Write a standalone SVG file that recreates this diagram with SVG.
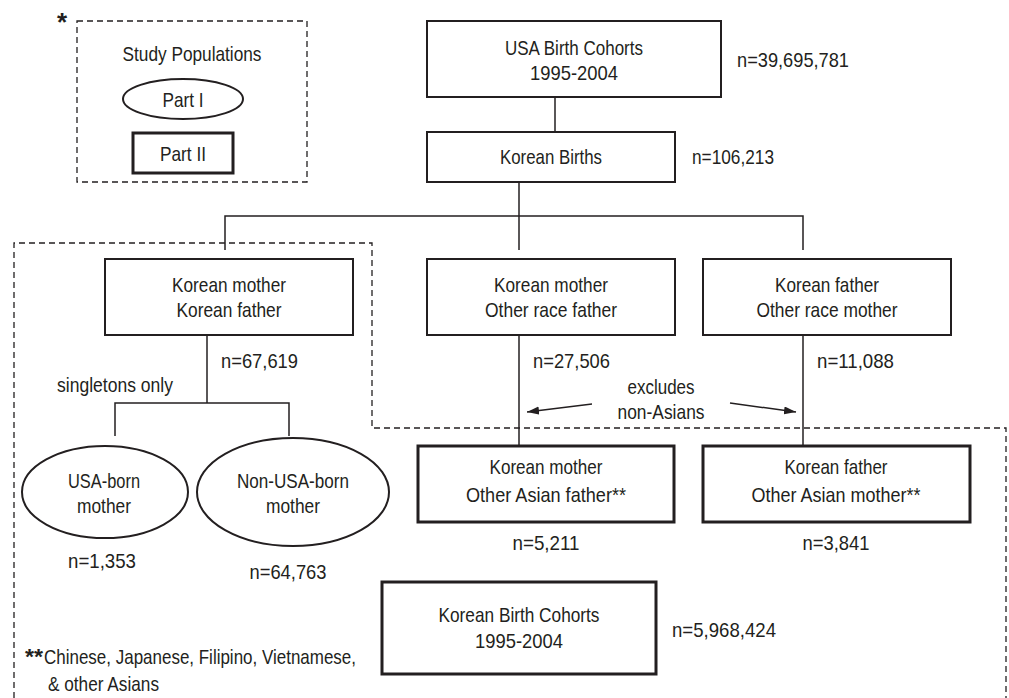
<svg xmlns="http://www.w3.org/2000/svg" width="1009" height="698" viewBox="0 0 1009 698">
<style>
text{font-family:"Liberation Sans Narrow","Arial Narrow","Liberation Sans",Arial,sans-serif;font-size:21px;fill:#231f20;text-anchor:middle}
.st{text-anchor:start}
.box{fill:#fff;stroke:#231f20;stroke-width:2}
.box2{fill:#fff;stroke:#231f20;stroke-width:3}
.ell{fill:#fff;stroke:#231f20;stroke-width:2}
.ln{fill:none;stroke:#231f20;stroke-width:1.5}
.dash{fill:none;stroke:#231f20;stroke-width:1.3;stroke-dasharray:6 4}
.ast{font-weight:bold;font-size:22px;text-anchor:start}
</style>
<defs>
<marker id="ah" markerUnits="userSpaceOnUse" markerWidth="13" markerHeight="9" refX="12" refY="4" orient="auto">
<path d="M0,0 L12,4 L0,8 z" fill="#231f20"/>
</marker>
</defs>
<rect width="1009" height="698" fill="#fff"/>
<g id="regions">
<polyline class="dash" points="14,698 14,243 372,243 372,428 1006,428 1006,698"/>
</g>
<g id="legend">
<text x="62" y="31" style="font-size:26px;font-weight:bold">*</text>
<rect class="dash" x="77" y="21" width="230" height="161"/>
<text x="192" y="61" textLength="139" lengthAdjust="spacingAndGlyphs">Study Populations</text>
<ellipse class="ell" cx="183" cy="99" rx="60" ry="20"/>
<text x="183" y="107" textLength="41" lengthAdjust="spacingAndGlyphs">Part I</text>
<rect class="box2" x="133" y="133" width="100" height="40"/>
<text x="183" y="161" textLength="46" lengthAdjust="spacingAndGlyphs">Part II</text>
</g>
<g id="connectors">
<line class="ln" x1="555" y1="97" x2="555" y2="132"/>
<line class="ln" x1="519" y1="182" x2="519" y2="250"/>
<polyline class="ln" points="225,250 225,216 803,216 803,250"/>
<line class="ln" x1="207" y1="335" x2="207" y2="403"/>
<polyline class="ln" points="115,436 115,403 289,403 289,436"/>
<line class="ln" x1="519" y1="335" x2="519" y2="446"/>
<line class="ln" x1="803" y1="335" x2="803" y2="446"/>
<line class="ln" x1="592" y1="404" x2="527" y2="412" marker-end="url(#ah)"/>
<line class="ln" x1="730" y1="403" x2="796" y2="412" marker-end="url(#ah)"/>
</g>
<g id="usa">
<rect class="box" x="427" y="21" width="294" height="76"/>
<text x="574" y="55" textLength="138" lengthAdjust="spacingAndGlyphs">USA Birth Cohorts</text>
<text x="574" y="80" textLength="88" lengthAdjust="spacingAndGlyphs">1995-2004</text>
<text class="st" x="737" y="67" textLength="112" lengthAdjust="spacingAndGlyphs">n=39,695,781</text>
</g>
<g id="korean-births">
<rect class="box" x="427" y="132" width="248" height="50"/>
<text x="551" y="164" textLength="102" lengthAdjust="spacingAndGlyphs">Korean Births</text>
<text class="st" x="692" y="164" textLength="82" lengthAdjust="spacingAndGlyphs">n=106,213</text>
</g>
<g id="km-kf">
<rect class="box" x="105" y="259" width="248" height="76"/>
<text x="229" y="292" textLength="114" lengthAdjust="spacingAndGlyphs">Korean mother</text>
<text x="229" y="317" textLength="105" lengthAdjust="spacingAndGlyphs">Korean father</text>
<text class="st" x="221" y="368" textLength="77" lengthAdjust="spacingAndGlyphs">n=67,619</text>
<text x="115" y="392" textLength="116" lengthAdjust="spacingAndGlyphs">singletons only</text>
</g>
<g id="km-orf">
<rect class="box" x="427" y="259" width="248" height="76"/>
<text x="551" y="292" textLength="114" lengthAdjust="spacingAndGlyphs">Korean mother</text>
<text x="551" y="317" textLength="132" lengthAdjust="spacingAndGlyphs">Other race father</text>
<text class="st" x="533" y="368" textLength="77" lengthAdjust="spacingAndGlyphs">n=27,506</text>
</g>
<g id="kf-orm">
<rect class="box" x="703" y="259" width="248" height="76"/>
<text x="827" y="292" textLength="104" lengthAdjust="spacingAndGlyphs">Korean father</text>
<text x="827" y="317" textLength="141" lengthAdjust="spacingAndGlyphs">Other race mother</text>
<text class="st" x="817" y="368" textLength="77" lengthAdjust="spacingAndGlyphs">n=11,088</text>
</g>
<g id="excl-label">
<text x="661" y="394" textLength="67" lengthAdjust="spacingAndGlyphs">excludes</text>
<text x="661" y="419" textLength="87" lengthAdjust="spacingAndGlyphs">non-Asians</text>
</g>
<g id="usa-born">
<ellipse class="ell" cx="105" cy="492" rx="83" ry="46"/>
<text x="104" y="488" textLength="72" lengthAdjust="spacingAndGlyphs">USA-born</text>
<text x="104" y="513" textLength="54" lengthAdjust="spacingAndGlyphs">mother</text>
<text x="102" y="568" textLength="68" lengthAdjust="spacingAndGlyphs">n=1,353</text>
</g>
<g id="non-usa-born">
<ellipse class="ell" cx="293" cy="492" rx="96" ry="54"/>
<text x="293" y="488" textLength="112" lengthAdjust="spacingAndGlyphs">Non-USA-born</text>
<text x="293" y="513" textLength="54" lengthAdjust="spacingAndGlyphs">mother</text>
<text x="288" y="579" textLength="77" lengthAdjust="spacingAndGlyphs">n=64,763</text>
</g>
<g id="km-oaf">
<rect class="box2" x="418" y="446" width="256" height="76"/>
<text x="546" y="474" textLength="113" lengthAdjust="spacingAndGlyphs">Korean mother</text>
<text x="546" y="502" textLength="160" lengthAdjust="spacingAndGlyphs">Other Asian father**</text>
<text x="546" y="550" textLength="67" lengthAdjust="spacingAndGlyphs">n=5,211</text>
</g>
<g id="kf-oam">
<rect class="box2" x="703" y="446" width="267" height="76"/>
<text x="836" y="474" textLength="103" lengthAdjust="spacingAndGlyphs">Korean father</text>
<text x="836" y="502" textLength="169" lengthAdjust="spacingAndGlyphs">Other Asian mother**</text>
<text x="836" y="550" textLength="67" lengthAdjust="spacingAndGlyphs">n=3,841</text>
</g>
<g id="korean-cohorts">
<rect class="box2" x="382" y="582" width="274" height="92"/>
<text x="519" y="622" textLength="161" lengthAdjust="spacingAndGlyphs">Korean Birth Cohorts</text>
<text x="519" y="648" textLength="88" lengthAdjust="spacingAndGlyphs">1995-2004</text>
<text class="st" x="672" y="637" textLength="104" lengthAdjust="spacingAndGlyphs">n=5,968,424</text>
</g>
<g id="footnote">
<text class="ast" x="25" y="664" textLength="18" lengthAdjust="spacingAndGlyphs">**</text>
<text class="st" x="44" y="664" textLength="312" lengthAdjust="spacingAndGlyphs">Chinese, Japanese, Filipino, Vietnamese,</text>
<text class="st" x="48" y="691" textLength="111" lengthAdjust="spacingAndGlyphs">&amp; other Asians</text>
</g>
</svg>
